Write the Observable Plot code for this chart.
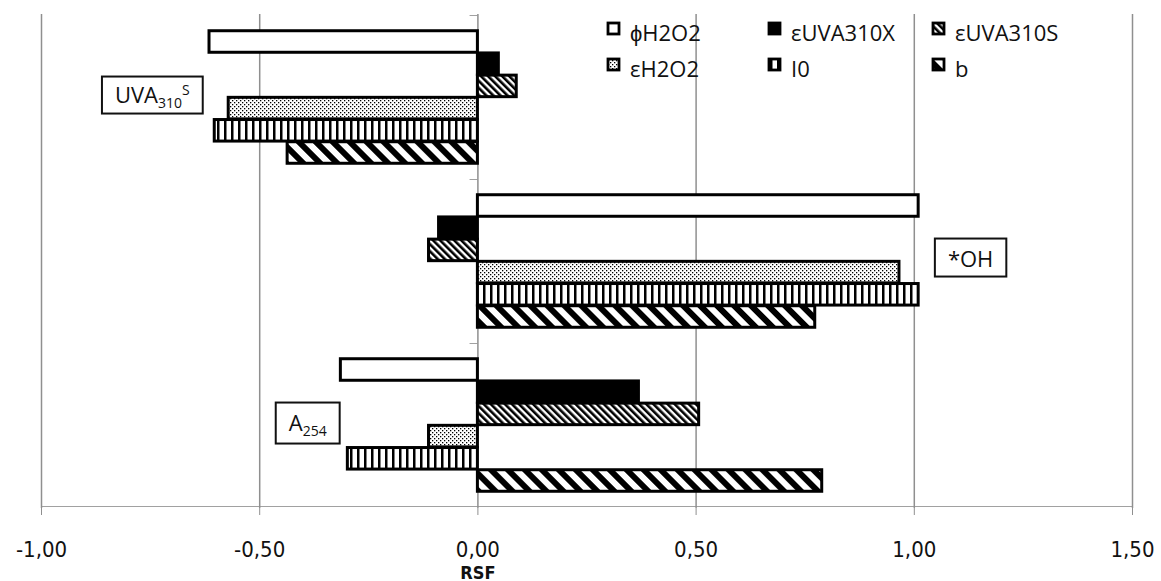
<!DOCTYPE html>
<html><head><meta charset="utf-8">
<script src="https://cdn.jsdelivr.net/npm/d3@7"></script>
<script src="https://cdn.jsdelivr.net/npm/@observablehq/plot@0.6"></script>
<style>
body{margin:0;background:#fff;}
#wrap{position:relative;width:1161px;height:581px;}
#legend{position:absolute;left:0;top:0;pointer-events:none;}
</style></head><body><div id="wrap"></div>
<script>
// ---- data ----
const categories = ["UVA310S", "*OH", "A254"];
const series = ["ϕH2O2", "εUVA310X", "εUVA310S", "εH2O2", "I0", "b"];
const valuesUVA310S = [-0.615, 0.048, 0.089, -0.571, -0.603, -0.436];
const valuesOH = [1.01, -0.089, -0.112, 0.966, 1.01, 0.773];
const valuesA254 = [-0.314, 0.369, 0.507, -0.112, -0.298, 0.789];
const xTicks = [-1, -0.5, 0, 0.5, 1, 1.5];
const gridTicks = [-1, -0.5, 0.5, 1, 1.5];
const annotations = [
  {category: "UVA310S", x: -0.746, base: "UVA", sub: "310", sup: "S"},
  {category: "*OH", x: 1.129, base: "*OH", sub: "", sup: ""},
  {category: "A254", x: -0.39, base: "A", sub: "254", sup: ""}
];

const valueTable = [valuesUVA310S, valuesOH, valuesA254];
const data = [];
categories.forEach((c, ci) => series.forEach((s, si) => data.push({category: c, series: s, value: valueTable[ci][si]})));

// ---- styling ----
const W = 1161, H = 581, mt = 14, mb = 73, ml = 41, mr = 29;
const band = (H - mt - mb) / categories.length;
const barH = 22.2;
const pad = (band - barH * series.length) / 2;
const gray = "#8f8f8f";
const fills = ["white", "black", "url(#pUvaS)", "url(#pH2O2)", "url(#pI0)", "url(#pB)"];
const fmt = d => d.toFixed(2).replace(".", ",");

const chart = Plot.plot({
  width: W, height: H,
  marginTop: mt, marginBottom: mb, marginLeft: ml, marginRight: mr,
  style: {fontFamily: "'DejaVu Sans Condensed', 'DejaVu Sans', sans-serif", background: "white", overflow: "visible"},
  x: {domain: [-1, 1.5]},
  y: {domain: categories, padding: 0, axis: null},
  marks: [
    Plot.ruleX(gridTicks, {stroke: gray, strokeWidth: 1.5}),
    Plot.ruleX([0], {stroke: gray, strokeWidth: 1.5}),
    Plot.barX(categories, {y: d => d, x1: -0.018, x2: 0, insetBottom: band - 1.5, fill: gray}),
    Plot.barX([categories[categories.length - 1]], {y: d => d, x1: -1, x2: 1.5, insetTop: band - 1.5, fill: gray}),
    ...series.map((s, i) => Plot.barX(data.filter(d => d.series === s), {
      y: "category", x1: 0, x2: "value",
      fill: fills[i], stroke: "black", strokeWidth: 3,
      insetTop: pad + i * barH, insetBottom: band - pad - (i + 1) * barH
    })),
    Plot.axisX({ticks: xTicks, tickFormat: fmt, tickSize: 7, tickPadding: 26, stroke: gray, fill: "#111", fontSize: 22, label: null}),
    Plot.text([{v: 0, t: "RSF"}], {x: "v", text: "t", frameAnchor: "bottom", lineAnchor: "bottom", dy: 70, fontWeight: "bold", fontSize: 18, fill: "#111"}),
    Plot.text(annotations, {x: "x", y: "category", text: d => d.base + d.sub + d.sup, fontFamily: "'Open Sans', sans-serif", fontSize: 22, fill: "#111", dy: -2})
  ]
});

document.getElementById("wrap").appendChild(chart);
const svg = d3.select(chart);

// ---- patterns ----
function addPatterns(sel) {
  const defs = sel.insert("defs", ":first-child");
  const p1 = defs.append("pattern").attr("id", "pUvaS").attr("patternUnits", "userSpaceOnUse")
    .attr("width", 5).attr("height", 5).attr("patternTransform", "rotate(-45)");
  p1.append("rect").attr("width", 5).attr("height", 5).attr("fill", "white");
  p1.append("rect").attr("width", 2.6).attr("height", 5).attr("fill", "black");
  const p2 = defs.append("pattern").attr("id", "pH2O2").attr("patternUnits", "userSpaceOnUse")
    .attr("width", 4).attr("height", 4);
  p2.append("rect").attr("width", 4).attr("height", 4).attr("fill", "white");
  p2.append("rect").attr("width", 1.3).attr("height", 1.3).attr("fill", "black");
  p2.append("rect").attr("x", 2).attr("y", 2).attr("width", 1.3).attr("height", 1.3).attr("fill", "black");
  const p3 = defs.append("pattern").attr("id", "pI0").attr("patternUnits", "userSpaceOnUse")
    .attr("width", 7).attr("height", 7);
  p3.append("rect").attr("width", 7).attr("height", 7).attr("fill", "white");
  p3.append("rect").attr("width", 2.5).attr("height", 7).attr("fill", "black");
  const p4 = defs.append("pattern").attr("id", "pB").attr("patternUnits", "userSpaceOnUse")
    .attr("width", 12).attr("height", 12).attr("patternTransform", "rotate(-45)");
  p4.append("rect").attr("width", 12).attr("height", 12).attr("fill", "white");
  p4.append("rect").attr("width", 6).attr("height", 12).attr("fill", "black");
}
addPatterns(svg);

// ---- annotation boxes with sub/superscripts ----
annotations.forEach(a => {
  const full = a.base + a.sub + a.sup;
  svg.selectAll("text").filter(function () { return this.textContent === full; }).each(function () {
    const t = d3.select(this);
    t.text(null);
    t.append("tspan").text(a.base);
    if (a.sub) t.append("tspan").attr("font-size", 14).attr("dy", 5).text(a.sub);
    if (a.sup) t.append("tspan").attr("font-size", 14).attr("dy", -13).text(a.sup);
    const bb = this.getBBox();
    const r = document.createElementNS("http://www.w3.org/2000/svg", "rect");
    const px = 13, py = a.sup ? 2 : 4;
    r.setAttribute("x", bb.x - px);
    r.setAttribute("y", bb.y - py);
    r.setAttribute("width", bb.width + 2 * px);
    r.setAttribute("height", bb.height + 2 * py);
    r.setAttribute("fill", "white");
    r.setAttribute("stroke", "#111");
    r.setAttribute("stroke-width", 2);
    if (this.getAttribute("transform")) r.setAttribute("transform", this.getAttribute("transform"));
    this.parentNode.insertBefore(r, this);
  });
});

// ---- legend ----
const lg = d3.select("#wrap").append("svg").attr("id", "legend").attr("width", W).attr("height", H);
const colX = [607, 768, 932];
series.forEach((s, i) => {
  const col = i % 3, row = Math.floor(i / 3);
  const x = colX[col], yb = 41 + row * 36;
  lg.append("rect").attr("x", x + 1).attr("y", yb - 18).attr("width", 11).attr("height", 11)
    .attr("fill", fills[i]).attr("stroke", "black").attr("stroke-width", 2.8);
  lg.append("text").attr("x", x + 23).attr("y", yb).attr("font-family", "'Open Sans', sans-serif")
    .attr("font-size", 22).attr("fill", "#111").text(s);
});
</script></body></html>
